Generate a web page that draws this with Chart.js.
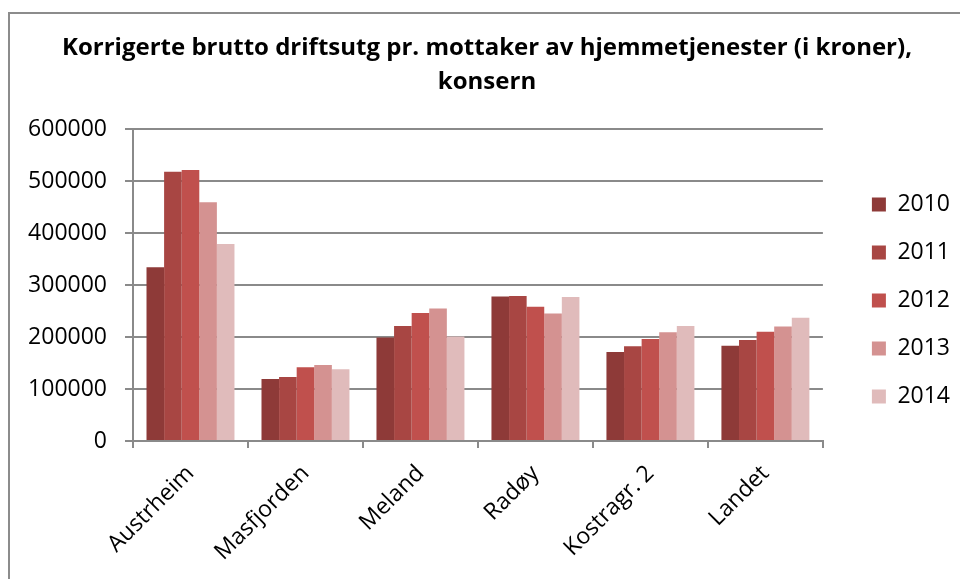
<!DOCTYPE html>
<html>
<head>
<meta charset="utf-8">
<title>Korrigerte brutto driftsutg pr. mottaker av hjemmetjenester</title>
<script src="https://cdn.jsdelivr.net/npm/chart.js@4.4.1/dist/chart.umd.min.js"></script>
<style>
  html, body { margin: 0; padding: 0; background: #fff; overflow: hidden; }
  #frame {
    position: absolute; left: 8px; top: 12px; width: 1000px; height: 600px;
    border: 2px solid #8c8c8c; box-sizing: border-box;
  }
  #wrap { position: absolute; left: 0; top: 0; width: 960px; height: 579px; }
</style>
</head>
<body>
<div id="frame"></div>
<div id="wrap"><canvas id="myChart"></canvas></div>
<script>
// categories and values
const kommuner = ['Austrheim', 'Masfjorden', 'Meland', 'Radøy', 'Kostragr. 2', 'Landet'];
const years = ['2010', '2011', '2012', '2013', '2014'];
const values2010 = [334000, 119000, 199000, 278000, 171000, 183000];
const values2011 = [518000, 123000, 221000, 279000, 182000, 194000];
const values2012 = [521000, 142000, 246000, 258000, 196000, 210000];
const values2013 = [459000, 146000, 255000, 245000, 209000, 220000];
const values2014 = [379000, 138000, 201000, 277000, 221000, 237000];
const yTicks = [0, 100000, 200000, 300000, 400000, 500000, 600000];

const colors = ['#8e3a38', '#a84643', '#c0504d', '#d49291', '#e0bbbb'];
const gridGray = '#8a8a8a';
const font = 'Open Sans';

const series = [values2010, values2011, values2012, values2013, values2014];

const renderChart = () => {
  const ctx = document.getElementById('myChart');
  new Chart(ctx, {
    type: 'bar',
    data: {
      labels: kommuner,
      datasets: years.map((y, i) => ({
        label: y,
        data: series[i],
        backgroundColor: colors[i],
        borderWidth: 0,
        categoryPercentage: 0.765,
        barPercentage: 1.0
      }))
    },
    options: {
      responsive: true,
      maintainAspectRatio: false,
      animation: false,
      layout: { padding: { left: 14, right: 0, top: 22, bottom: 0 } },
      plugins: {
        tooltip: { enabled: false },
        title: {
          display: true,
          text: ['Korrigerte brutto driftsutg pr. mottaker av hjemmetjenester (i kroner),', 'konsern'],
          color: '#000',
          font: { family: font, size: 24, weight: 'bold', lineHeight: 34 / 24 },
          padding: { top: 9, bottom: 30 }
        },
        legend: {
          position: 'right',
          labels: {
            color: '#000',
            font: { family: font, size: 23 },
            boxWidth: 14,
            boxHeight: 14,
            padding: 25
          }
        }
      },
      scales: {
        x: {
          grid: { display: true, drawOnChartArea: false, drawTicks: true, tickLength: 7, color: gridGray, lineWidth: 2 },
          border: { display: true, color: gridGray, width: 2 },
          ticks: {
            color: '#000',
            font: { family: font, size: 23 },
            maxRotation: 45,
            minRotation: 45,
            padding: 12
          },
          afterFit: s => { s.height = 138; }
        },
        y: {
          min: 0,
          max: 600000,
          afterBuildTicks: s => { s.ticks = yTicks.map(v => ({ value: v })); },
          grid: { color: gridGray, lineWidth: 2, tickLength: 8 },
          border: { display: true, color: gridGray, width: 2 },
          ticks: {
            color: '#000',
            font: { family: font, size: 23 },
            padding: 18,
            callback: v => String(v)
          },
          afterFit: s => { s.width = 119; }
        },
        // empty spacer between plot and legend
        gap: {
          type: 'linear',
          position: 'right',
          display: true,
          grid: { display: false },
          border: { display: false },
          ticks: { display: false },
          afterFit: s => { s.width = 24; }
        }
      }
    }
  });
};

renderChart();
</script>
</body>
</html>
